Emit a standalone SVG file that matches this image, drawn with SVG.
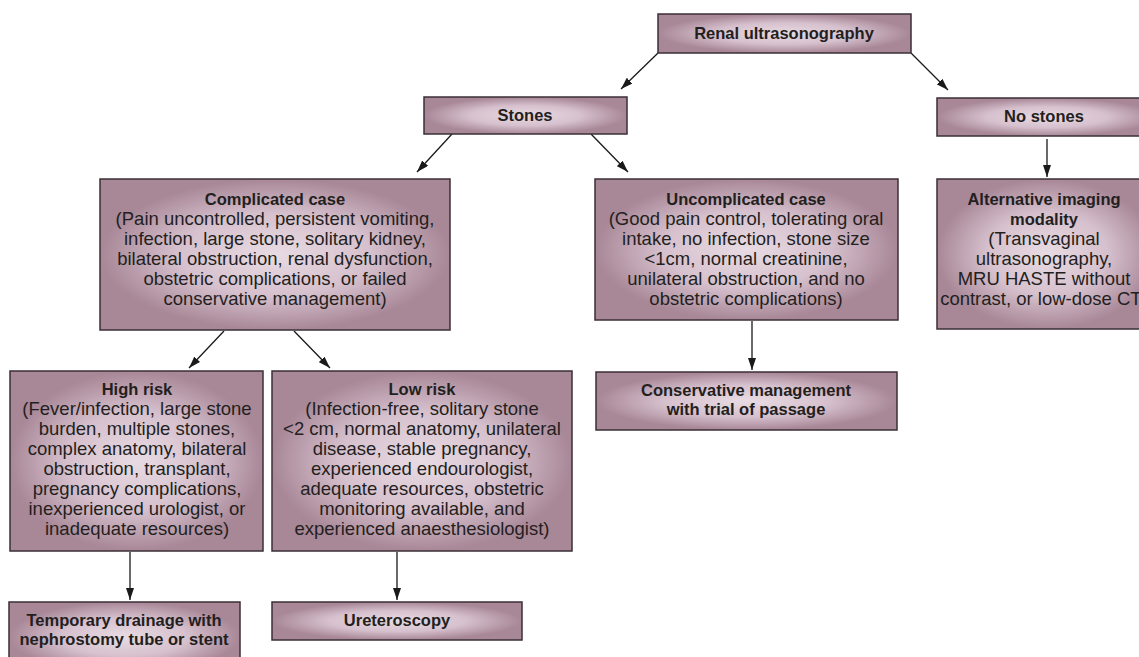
<svg xmlns="http://www.w3.org/2000/svg" width="1139" height="657" viewBox="0 0 1139 657">
<defs>
<radialGradient id="g" cx="0.5" cy="0.5" r="0.5">
<stop offset="0" stop-color="#e8dbe3"/>
<stop offset="0.55" stop-color="#d6c0cd"/>
<stop offset="1" stop-color="#a88797"/>
</radialGradient>
<marker id="ah" viewBox="0 0 12 8" refX="12" refY="4" markerWidth="12" markerHeight="8" markerUnits="userSpaceOnUse" orient="auto">
<path d="M0,0 L12,4 L0,8 Z" fill="#1a1a1a"/>
</marker>
</defs>
<style>
.box{fill:url(#g);stroke:#3a2f36;stroke-width:1.5}
text{font-family:"Liberation Sans",Arial,sans-serif;fill:#231f20;text-anchor:middle}
.b{font-weight:bold;font-size:16.5px}
.r{font-size:18.5px}
.c line{stroke:#1a1a1a;stroke-width:1.3;marker-end:url(#ah)}
</style>
<rect width="1139" height="657" fill="#fff"/>
<g class="c" id="connectors">
<line x1="658" y1="53" x2="621" y2="89"/>
<line x1="911" y1="53" x2="948" y2="90"/>
<line x1="452" y1="134" x2="417" y2="172"/>
<line x1="591" y1="134" x2="628" y2="172"/>
<line x1="1047" y1="139" x2="1047" y2="177"/>
<line x1="224" y1="331" x2="189" y2="368"/>
<line x1="294" y1="331" x2="330" y2="368"/>
<line x1="752" y1="321" x2="752" y2="370"/>
<line x1="130" y1="552" x2="130" y2="600"/>
<line x1="397" y1="552" x2="397" y2="600"/>
</g>
<g id="renal">
<rect class="box" x="658" y="14" width="253" height="39"/>
<text class="b" x="784" y="39">Renal ultrasonography</text>
</g>
<g id="stones">
<rect class="box" x="424" y="97" width="203" height="37"/>
<text class="b" x="525" y="121">Stones</text>
</g>
<g id="nostones">
<rect class="box" x="937" y="98" width="220" height="38"/>
<text class="b" x="1044" y="122">No stones</text>
</g>
<g id="complicated">
<rect class="box" x="100" y="179" width="350" height="151"/>
<text class="b" x="275" y="205">Complicated case</text>
<text class="r" x="275" y="225">(Pain uncontrolled, persistent vomiting,</text>
<text class="r" x="275" y="245">infection, large stone, solitary kidney,</text>
<text class="r" x="275" y="265">bilateral obstruction, renal dysfunction,</text>
<text class="r" x="275" y="285">obstetric complications, or failed</text>
<text class="r" x="275" y="305">conservative management)</text>
</g>
<g id="uncomplicated">
<rect class="box" x="595" y="179" width="303" height="141"/>
<text class="b" x="746" y="205">Uncomplicated case</text>
<text class="r" x="746" y="225">(Good pain control, tolerating oral</text>
<text class="r" x="746" y="245">intake, no infection, stone size</text>
<text class="r" x="746" y="265">&lt;1cm, normal creatinine,</text>
<text class="r" x="746" y="285">unilateral obstruction, and no</text>
<text class="r" x="746" y="305">obstetric complications)</text>
</g>
<g id="alternative">
<rect class="box" x="937" y="179" width="220" height="150"/>
<text class="b" x="1044" y="205">Alternative imaging</text>
<text class="b" x="1044" y="225">modality</text>
<text class="r" x="1044" y="245">(Transvaginal</text>
<text class="r" x="1044" y="265">ultrasonography,</text>
<text class="r" x="1044" y="285">MRU HASTE without</text>
<text class="r" x="1044" y="305">contrast, or low-dose CT)</text>
</g>
<g id="highrisk">
<rect class="box" x="10" y="371" width="253" height="180"/>
<text class="b" x="137" y="395">High risk</text>
<text class="r" x="137" y="415">(Fever/infection, large stone</text>
<text class="r" x="137" y="435">burden, multiple stones,</text>
<text class="r" x="137" y="455">complex anatomy, bilateral</text>
<text class="r" x="137" y="475">obstruction, transplant,</text>
<text class="r" x="137" y="495">pregnancy complications,</text>
<text class="r" x="137" y="515">inexperienced urologist, or</text>
<text class="r" x="137" y="535">inadequate resources)</text>
</g>
<g id="lowrisk">
<rect class="box" x="272" y="371" width="300" height="180"/>
<text class="b" x="422" y="395">Low risk</text>
<text class="r" x="422" y="415">(Infection-free, solitary stone</text>
<text class="r" x="422" y="435">&lt;2 cm, normal anatomy, unilateral</text>
<text class="r" x="422" y="455">disease, stable pregnancy,</text>
<text class="r" x="422" y="475">experienced endourologist,</text>
<text class="r" x="422" y="495">adequate resources, obstetric</text>
<text class="r" x="422" y="515">monitoring available, and</text>
<text class="r" x="422" y="535">experienced anaesthesiologist)</text>
</g>
<g id="conservative">
<rect class="box" x="596" y="372" width="301" height="58"/>
<text class="b" x="746" y="396">Conservative management</text>
<text class="b" x="746" y="415">with trial of passage</text>
</g>
<g id="temporary">
<rect class="box" x="9" y="602" width="231" height="70"/>
<text class="b" x="124" y="626">Temporary drainage with</text>
<text class="b" x="124" y="645">nephrostomy tube or stent</text>
</g>
<g id="ureteroscopy">
<rect class="box" x="272" y="602" width="250" height="38"/>
<text class="b" x="397" y="626">Ureteroscopy</text>
</g>
</svg>
